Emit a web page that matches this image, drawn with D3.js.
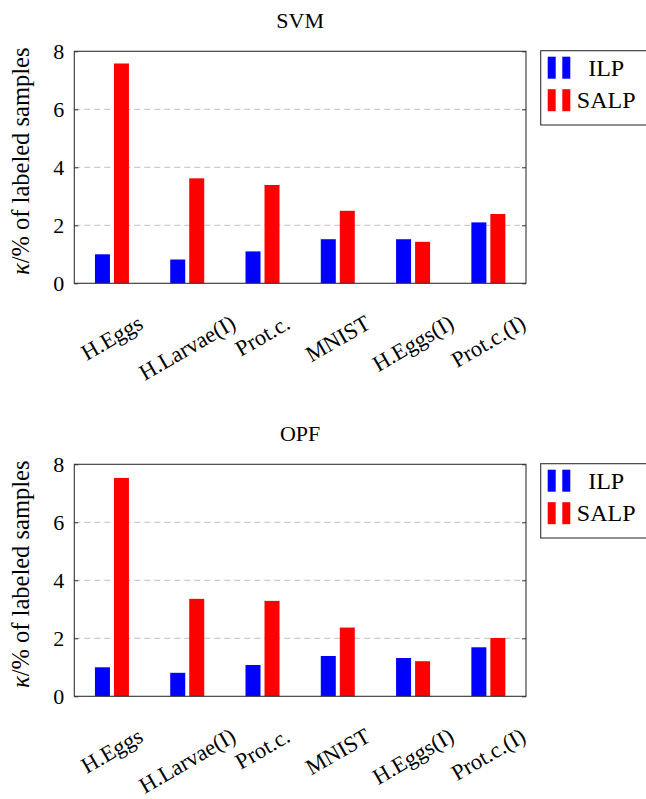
<!DOCTYPE html>
<html>
<head>
<meta charset="utf-8">
<script src="https://cdn.jsdelivr.net/npm/d3@7"></script>
<style>
  html, body { margin: 0; padding: 0; background: #fff; }
  svg { display: block; }
  svg text { font-family: "Liberation Serif", "DejaVu Serif", serif; }
</style>
</head>
<body>
<div id="chart"></div>
<script>
// data
const categories = ['H.Eggs', 'H.Larvae(I)', 'Prot.c.', 'MNIST', 'H.Eggs(I)', 'Prot.c.(I)'];
const seriesNames = ['ILP', 'SALP'];
const svmILP = [1.0, 0.82, 1.1, 1.52, 1.52, 2.1];
const svmSALP = [7.58, 3.62, 3.39, 2.5, 1.43, 2.39];
const opfILP = [1.0, 0.81, 1.08, 1.39, 1.32, 1.69];
const opfSALP = [7.53, 3.36, 3.29, 2.37, 1.21, 2.01];
const yTicks = [0, 2, 4, 6, 8];
const gridTicks = [2, 4, 6];
const colors = { ILP: '#0000ff', SALP: '#ff0000' };

const width = 646, height = 799;
const serif = '"Liberation Serif", "DejaVu Serif", serif';
const svg = d3.select('#chart').append('svg')
  .attr('width', width)
  .attr('height', height);

function drawPanel(title, ilp, salp, top) {
  const left = 74.3, right = 526, plotH = 232;
  const bottom = top + plotH;
  const g = svg.append('g');

  const x = d3.scaleBand().domain(categories).range([left, right]).padding(0);
  const xs = d3.scaleBand().domain(seriesNames).range([-17, 17]).paddingInner(0.2105);
  const y = d3.scaleLinear().domain([0, 8]).range([bottom, top]);

  const rows = categories.map((c, i) => ({ cat: c, ILP: ilp[i], SALP: salp[i] }));

  // grid
  g.append('g')
    .selectAll('line')
    .data(gridTicks)
    .join('line')
    .attr('x1', left).attr('x2', right)
    .attr('y1', d => y(d)).attr('y2', d => y(d))
    .attr('stroke', '#b8b8b8')
    .attr('stroke-width', 0.9)
    .attr('stroke-dasharray', '6,4');

  // bars
  g.append('g')
    .selectAll('g')
    .data(rows)
    .join('g')
    .attr('transform', d => `translate(${x(d.cat) + x.bandwidth() / 2},0)`)
    .selectAll('rect')
    .data(d => seriesNames.map(s => ({ s, v: d[s] })))
    .join('rect')
    .attr('x', d => xs(d.s))
    .attr('width', xs.bandwidth())
    .attr('y', d => y(d.v))
    .attr('height', d => y(0) - y(d.v))
    .attr('fill', d => colors[d.s]);

  // y axis (left) and mirrored ticks (right)
  const yAxis = g.append('g')
    .attr('transform', `translate(${left},0)`)
    .call(d3.axisLeft(y).tickValues(yTicks).tickSize(-4).tickPadding(12).tickFormat(d3.format('d')))
    .attr('font-family', serif)
    .attr('font-size', 22);
  yAxis.select('.domain').remove();
  yAxis.selectAll('line').attr('stroke', '#333');
  yAxis.selectAll('text').attr('fill', '#000').attr('x', -10);

  const yRight = g.append('g')
    .attr('transform', `translate(${right},0)`)
    .call(d3.axisRight(y).tickValues(yTicks).tickSize(-4).tickFormat(''));
  yRight.select('.domain').remove();
  yRight.selectAll('line').attr('stroke', '#333');

  // frame
  g.append('rect')
    .attr('x', left).attr('y', top)
    .attr('width', right - left).attr('height', plotH)
    .attr('fill', 'none')
    .attr('stroke', '#333')
    .attr('stroke-width', 1.1);

  // x tick labels, rotated 30deg, bbox centred under the tick
  const fs = 22.5;
  const labelTop = bottom + 29;
  g.append('g')
    .selectAll('text')
    .data(categories)
    .join('text')
    .attr('font-family', serif)
    .attr('font-size', fs)
    .attr('text-anchor', 'middle')
    .attr('dominant-baseline', 'central')
    .text(d => d)
    .attr('transform', function (d) {
      const L = this.getComputedTextLength();
      const a = Math.PI / 6;
      const H = L * Math.sin(a) + fs * 0.9 * Math.cos(a);
      return `translate(${x(d) + x.bandwidth() / 2},${labelTop + H / 2}) rotate(-30)`;
    });

  // title
  g.append('text')
    .attr('x', (left + right) / 2)
    .attr('y', top - 23)
    .attr('text-anchor', 'middle')
    .attr('font-family', serif)
    .attr('font-size', 22)
    .text(title);

  // y label
  g.append('text')
    .attr('transform', `translate(29,${top + plotH / 2 - 6}) rotate(-90)`)
    .attr('text-anchor', 'middle')
    .attr('font-family', serif)
    .attr('font-size', 24.5)
    .html('<tspan font-style="italic">κ</tspan>/% of labeled samples');

  // legend
  const lg = g.append('g').attr('transform', `translate(540.7,${top - 0.6})`);
  lg.append('rect')
    .attr('width', 130).attr('height', 74.3)
    .attr('fill', '#fff')
    .attr('stroke', '#333')
    .attr('stroke-width', 1.1);
  seriesNames.forEach((s, i) => {
    const cy = 17 + i * 32.5;
    lg.append('rect').attr('x', 7).attr('y', cy - 11).attr('width', 8).attr('height', 22).attr('fill', colors[s]);
    lg.append('rect').attr('x', 21.6).attr('y', cy - 11).attr('width', 8).attr('height', 22).attr('fill', colors[s]);
    lg.append('text')
      .attr('x', 65.5).attr('y', cy + 8)
      .attr('text-anchor', 'middle')
      .attr('font-family', serif)
      .attr('font-size', 24)
      .text(s);
  });
}

drawPanel('SVM', svmILP, svmSALP, 51.3);
drawPanel('OPF', opfILP, opfSALP, 464.3);
</script>
</body>
</html>
